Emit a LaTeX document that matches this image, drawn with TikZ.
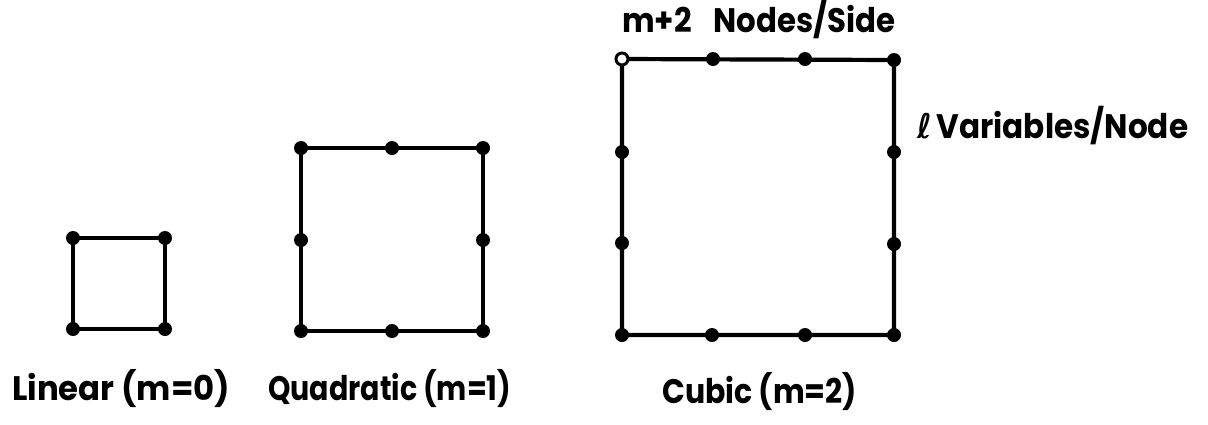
\documentclass[tikz,border=0pt]{standalone}
\usepackage{fontspec}
\usepackage{graphicx}
\setmainfont{Poppins}
\newfontfamily\dvfont{DejaVu Sans}
\newcommand{\fitw}[2]{\resizebox{#1}{\height}{#2}}
\begin{document}
\begin{tikzpicture}[x=1pt,y=-1pt,
  edge/.style={line width=4.2pt,line cap=round,line join=round},
  dot/.style={circle,fill=black,inner sep=0pt,minimum size=14pt},
  odot/.style={circle,draw=black,fill=white,line width=3pt,inner sep=0pt,minimum size=12pt},
  lbl/.style={font=\fontsize{34}{38}\selectfont\bfseries,inner sep=0pt}]
\useasboundingbox (0,0) rectangle (1208,424);
% Linear
\node[dot] (a1) at (73,238) {};
\node[dot] (a2) at (165,238) {};
\node[dot] (a3) at (165,329) {};
\node[dot] (a4) at (73,329) {};
\draw[edge] (a1.center) -- (a2.center) -- (a3.center) -- (a4.center) -- cycle;
% Quadratic
\node[dot] (b1) at (301,148) {};
\node[dot] (b2) at (392,148) {};
\node[dot] (b3) at (483,148) {};
\node[dot] (b4) at (483,240) {};
\node[dot] (b5) at (483,331) {};
\node[dot] (b6) at (392,331) {};
\node[dot] (b7) at (301,331) {};
\node[dot] (b8) at (301,240) {};
\draw[edge] (b1.center) -- (b3.center) -- (b5.center) -- (b7.center) -- cycle;
% Cubic
\coordinate (c1) at (622,59);
\node[dot] (c2) at (713,59) {};
\node[dot] (c3) at (805,59) {};
\node[dot] (c4) at (894,60) {};
\node[dot] (c5) at (894,152) {};
\node[dot] (c6) at (894,244) {};
\node[dot] (c7) at (894,335) {};
\node[dot] (c8) at (805,335) {};
\node[dot] (c9) at (712,335) {};
\node[dot] (c10) at (622,335) {};
\node[dot] (c11) at (622,243) {};
\node[dot] (c12) at (622,152) {};
\draw[edge] (c1) -- (c4.center) -- (c7.center) -- (c10.center) -- cycle;
\node[odot] (c1n) at (c1) {};
% Labels
\node[lbl,anchor=base west] (t1) at (622,32) {\fitw{273pt}{m+2\hspace{0.7em}Nodes/Side}};
\node[lbl,anchor=base west] (t2) at (917,138) {\fitw{271pt}{{\dvfont\bfseries\itshape ℓ}\hspace{0.15em}Variables/Node}};
\node[lbl,anchor=base west] (t3) at (12,400) {\fitw{218pt}{Linear (m=0)}};
\node[lbl,anchor=base west] (t4) at (268,400) {\fitw{243pt}{Quadratic (m=1)}};
\node[lbl,anchor=base west] (t5) at (662,403) {\fitw{195pt}{Cubic (m=2)}};
\end{tikzpicture}
\end{document}
